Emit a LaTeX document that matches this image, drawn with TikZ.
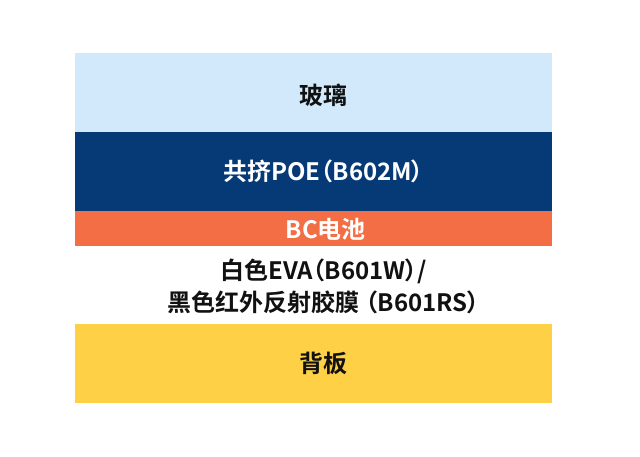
\documentclass[tikz,border=0pt]{standalone}
\usepackage{fontspec}
\newfontfamily\cjk[RawFeature=+palt]{Noto Sans CJK SC Bold}
\definecolor{glass}{HTML}{D2E9FC}
\definecolor{poe}{HTML}{053A76}
\definecolor{cell}{HTML}{F36E45}
\definecolor{back}{HTML}{FDD046}
\definecolor{txt}{HTML}{111111}
\tikzset{
  layer/.style={draw=none, minimum width=477pt, inner sep=0pt, anchor=north west},
  lbl/.style={inner sep=0pt, font=\cjk\fontsize{24}{31.5}\selectfont, align=center, text=txt},
}
\begin{document}
\begin{tikzpicture}[x=1pt,y=-1pt]
\useasboundingbox[fill=white] (0,0) rectangle (640,456);
\node[layer, fill=glass, minimum height=78.5pt] (glass) at (75,53) {};
\node[layer, fill=poe, minimum height=79.5pt] (poe) at (75,131.5) {};
\node[layer, fill=cell, minimum height=35pt] (cell) at (75,211) {};
\node[layer, fill=white, minimum height=78pt] (eva) at (75,246) {};
\node[layer, fill=back, minimum height=79pt] (back) at (75,324) {};
\node[lbl] (glasst) at ([xshift=10pt,yshift=-3pt]glass.center) {玻璃};
\node[lbl, text=white] (poet) at ([xshift=10pt]poe.center) {共挤POE（B602M）};
\node[lbl, text=white] (cellt) at ([xshift=12pt,yshift=-1pt]cell.center) {BC电池};
\node[lbl] (evat) at ([xshift=10pt,yshift=-1pt]eva.center) {白色EVA（B601W）/\\黑色红外反射胶膜\hspace{6pt}（B601RS）};
\node[lbl] (backt) at ([xshift=10pt]back.center) {背板};
\end{tikzpicture}
\end{document}
